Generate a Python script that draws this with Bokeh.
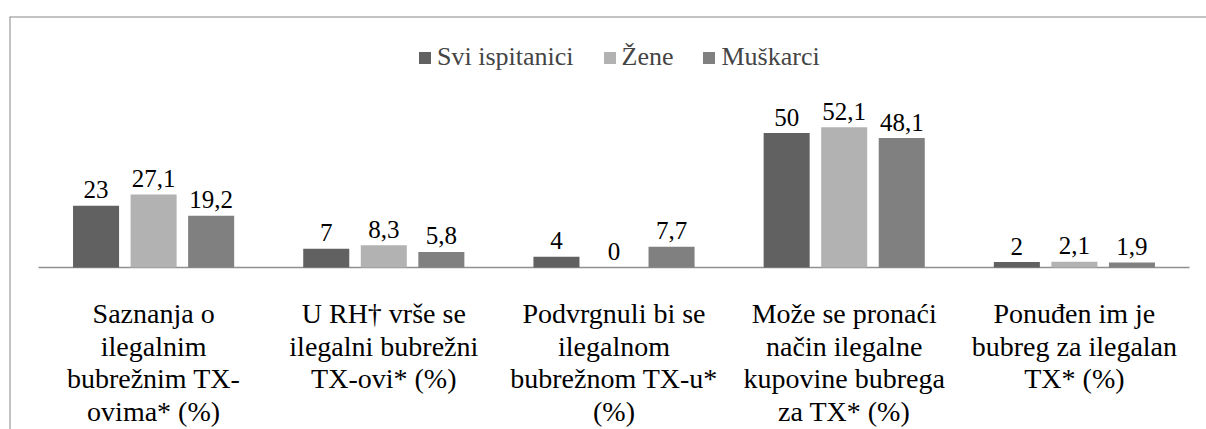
from bokeh.plotting import figure
from bokeh.models import Range1d, Span, Legend, LegendItem, ColumnDataSource, Label
from bokeh.embed import file_html
from bokeh.resources import INLINE

# ---------------- data ----------------
categories = [
    "Saznanja o\nilegalnim\nbubrežnim TX-\novima* (%)",
    "U RH† vrše se\nilegalni bubrežni\nTX-ovi* (%)",
    "Podvrgnuli bi se\nilegalnom\nbubrežnom TX-u*\n(%)",
    "Može se pronaći\nnačin ilegalne\nkupovine bubrega\nza TX* (%)",
    "Ponuđen im je\nbubreg za ilegalan\nTX* (%)",
]
series_names = ["Svi ispitanici", "Žene", "Muškarci"]
svi = [23, 7, 4, 50, 2]
zene = [27.1, 8.3, 0, 52.1, 2.1]
muskarci = [19.2, 5.8, 7.7, 48.1, 1.9]
series_values = [svi, zene, muskarci]
colors = ["#616161", "#b2b2b2", "#808080"]
offsets = [-0.25, 0.0, 0.25]

# ---------------- geometry ----------------
PAGE_X, PAGE_Y = 0, 0          # observed position of figure on page
W, H = 1206, 429
BORDER_LEFT, BORDER_TOP = 9, 16
PX_X = 230.2   # px per category
PX_Y = 2.69    # px per percent
frame_w = W - BORDER_LEFT
frame_h = H - BORDER_TOP
axis_left_px = 38 - (PAGE_X + BORDER_LEFT)
baseline_px = 267 - (PAGE_Y + BORDER_TOP)
x_start = -axis_left_px / PX_X
x_end = x_start + frame_w / PX_X
y_end = baseline_px / PX_Y
y_start = y_end - frame_h / PX_Y

FONT_NAME = "Liberation Serif"

p = figure(width=W, height=H, output_backend="svg", toolbar_location=None,
           x_range=Range1d(x_start, x_end), y_range=Range1d(y_start, y_end),
           x_axis_location=None, y_axis_location=None,
           min_border_left=BORDER_LEFT, min_border_right=0,
           min_border_top=BORDER_TOP, min_border_bottom=0,
           outline_line_color=None, background_fill_color="white",
           border_fill_color="white")
p.xgrid.visible = False
p.ygrid.visible = False

# frame lines (top and left)
p.add_layout(Span(location=y_end, dimension="width", line_color="#878787", line_width=2))
p.add_layout(Span(location=x_start, dimension="height", line_color="#878787", line_width=2))

# axis baseline
p.segment(x0=[0], y0=[0], x1=[len(categories)], y1=[0], line_color="#909090", line_width=1.5)

items = []
for name, vals, col, off in zip(series_names, series_values, colors, offsets):
    xs = [i + 0.5 + off for i in range(len(vals))]
    src = ColumnDataSource(dict(x=xs, top=vals))
    r = p.vbar(x="x", top="top", bottom=0, width=0.2, source=src,
               fill_color=col, line_color=None)
    for xv, v in zip(xs, vals):
        p.add_layout(Label(x=xv, y=v + 16 / PX_Y, text=("%g" % v).replace(".", ","),
                           text_align="center", text_baseline="alphabetic",
                           text_font=FONT_NAME, text_font_size="25px",
                           text_color="black"))
    items.append(LegendItem(label=name, renderers=[r]))

# category labels (one label per text line)
for i, cat in enumerate(categories):
    for k, line in enumerate(cat.split("\n")):
        p.add_layout(Label(x=i + 0.5, y=-(313 + 32.7 * k - 267) / PX_Y, text=line,
                           text_align="center", text_baseline="alphabetic",
                           text_font=FONT_NAME, text_font_size="28px",
                           text_color="black"))

legend = Legend(items=items, orientation="horizontal",
                location=(417 - PAGE_X - BORDER_LEFT, 429 - 72 - PAGE_Y - (H - frame_h) + BORDER_TOP),
                glyph_width=15, glyph_height=15, label_standoff=5, spacing=28,
                padding=0, margin=0, border_line_color=None,
                background_fill_alpha=0, label_text_font=FONT_NAME,
                label_text_font_size="26px")
p.add_layout(legend)

open("out.html", "w").write(file_html(p, INLINE))
